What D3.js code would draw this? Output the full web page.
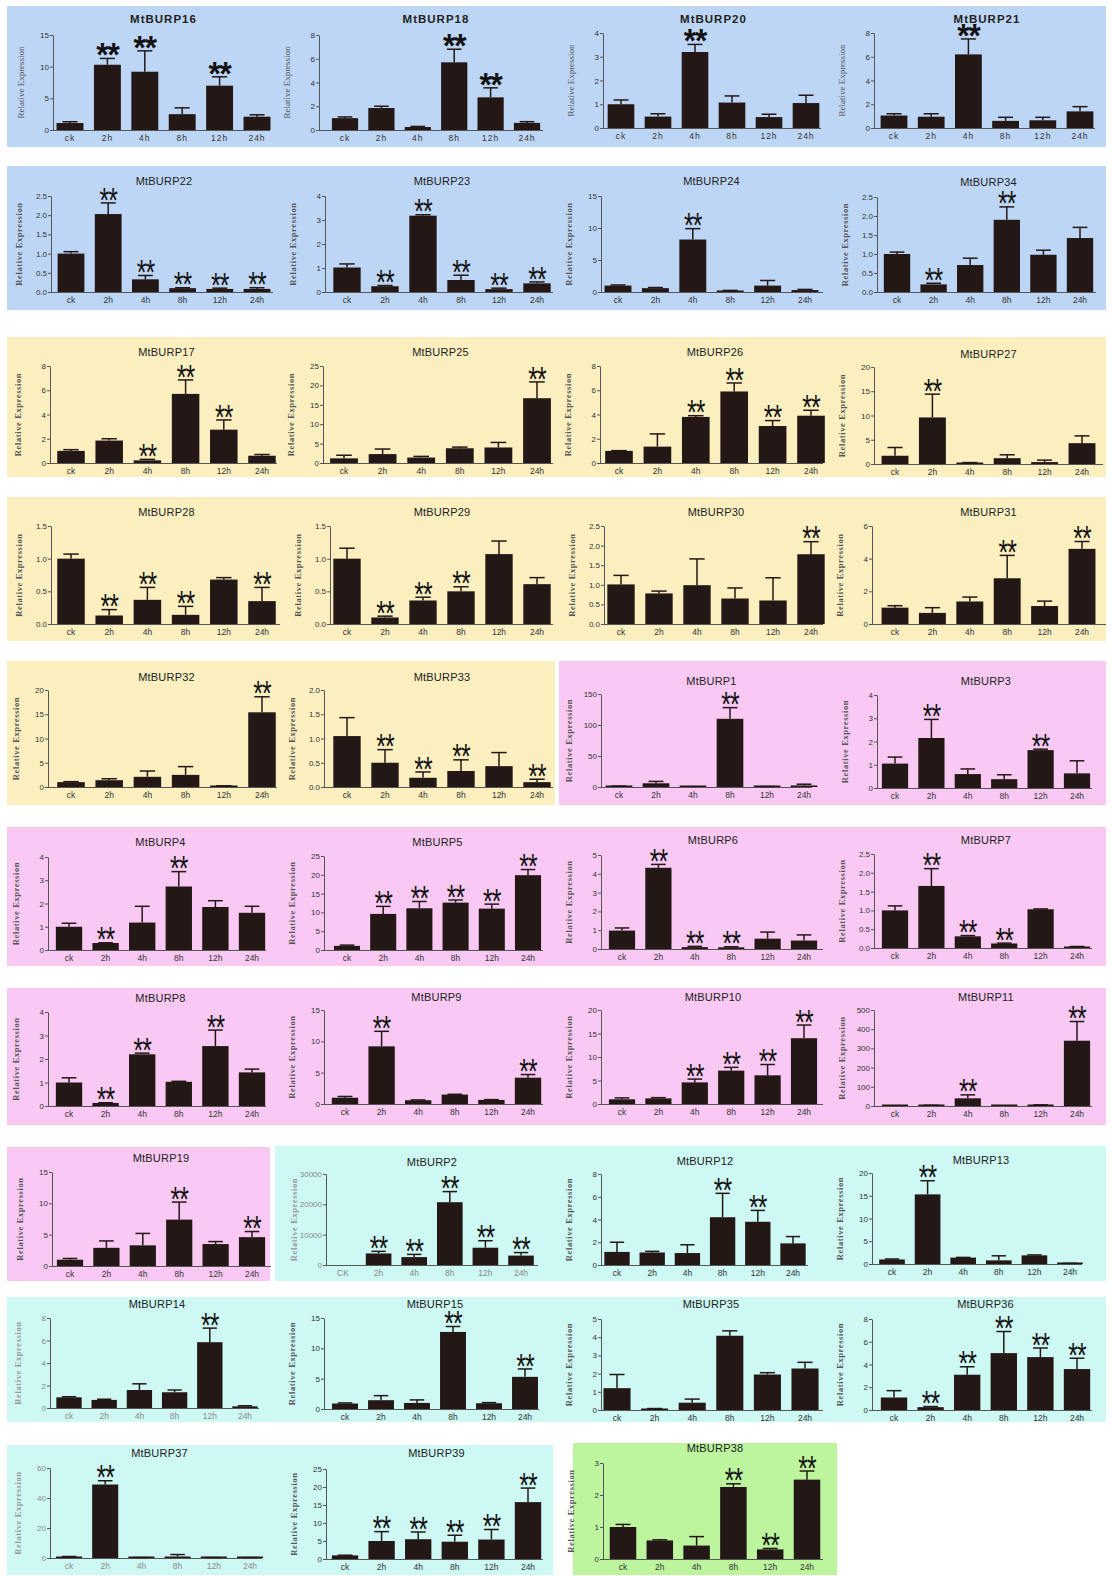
<!DOCTYPE html>
<html>
<head>
<meta charset="utf-8">
<script src="https://cdn.jsdelivr.net/npm/d3@7/dist/d3.min.js"></script>
<style>
  html, body { margin: 0; padding: 0; background: #fff; }
  svg { display: block; }
</style>
</head>
<body>
<svg id="chart" width="1112" height="1576"></svg>
<script>
// ---------------- DATA ----------------
const timePoints = ["ck", "2h", "4h", "8h", "12h", "24h"];
const timePointsUpper = ["CK", "2h", "4h", "8h", "12h", "24h"];

const genes = [
  "MtBURP16", "MtBURP18", "MtBURP20", "MtBURP21",
  "MtBURP22", "MtBURP23", "MtBURP24", "MtBURP34",
  "MtBURP17", "MtBURP25", "MtBURP26", "MtBURP27",
  "MtBURP28", "MtBURP29", "MtBURP30", "MtBURP31",
  "MtBURP32", "MtBURP33", "MtBURP1", "MtBURP3",
  "MtBURP4", "MtBURP5", "MtBURP6", "MtBURP7",
  "MtBURP8", "MtBURP9", "MtBURP10", "MtBURP11",
  "MtBURP19", "MtBURP2", "MtBURP12", "MtBURP13",
  "MtBURP14", "MtBURP15", "MtBURP35", "MtBURP36",
  "MtBURP37", "MtBURP39", "MtBURP38"
];

// mean relative expression per time point (ck, 2h, 4h, 8h, 12h, 24h)
const means = [
  [1.1, 10.3, 9.2, 2.5, 7.0, 2.1],
  [1.0, 1.85, 0.25, 5.7, 2.75, 0.6],
  [1.0, 0.48, 3.2, 1.07, 0.46, 1.05],
  [1.05, 0.95, 6.2, 0.6, 0.65, 1.4],
  [1.0, 2.03, 0.33, 0.1, 0.08, 0.08],
  [1.02, 0.24, 3.18, 0.5, 0.12, 0.36],
  [1.0, 0.6, 8.2, 0.2, 1.0, 0.3],
  [1.0, 0.2, 0.71, 1.9, 0.98, 1.42],
  [1.0, 1.85, 0.22, 5.7, 2.75, 0.6],
  [1.2, 2.3, 1.4, 3.8, 4.0, 16.7],
  [1.0, 1.35, 3.8, 5.9, 3.05, 3.9],
  [1.7, 9.6, 0.25, 1.2, 0.4, 4.3],
  [1.0, 0.13, 0.37, 0.14, 0.68, 0.35],
  [1.0, 0.1, 0.36, 0.5, 1.07, 0.61],
  [1.01, 0.78, 0.99, 0.65, 0.6, 1.78],
  [1.0, 0.68, 1.38, 2.8, 1.1, 4.6],
  [1.0, 1.4, 2.1, 2.5, 0.2, 15.4],
  [1.05, 0.5, 0.19, 0.33, 0.43, 0.1],
  [1, 6, 0.3, 110, 0.5, 2.5],
  [1.05, 2.15, 0.6, 0.38, 1.63, 0.63],
  [1.0, 0.3, 1.18, 2.73, 1.85, 1.6],
  [1.1, 9.6, 11.1, 12.6, 11.0, 19.9],
  [0.98, 4.32, 0.1, 0.09, 0.55, 0.45],
  [1.0, 1.65, 0.31, 0.12, 1.03, 0.03],
  [1.0, 0.13, 2.2, 1.03, 2.55, 1.43],
  [1.0, 9.2, 0.6, 1.5, 0.65, 4.2],
  [1.0, 1.2, 4.6, 7.1, 6.1, 14.0],
  [1, 3, 40, 1, 3, 340],
  [1.0, 2.9, 3.3, 7.4, 3.5, 4.6],
  [0, 3800, 2600, 20700, 5700, 3100],
  [1.15, 1.1, 1.05, 4.2, 3.8, 1.9],
  [1.0, 15.3, 1.4, 0.8, 1.9, 0.1],
  [0.95, 0.72, 1.6, 1.4, 5.85, 0.15],
  [0.9, 1.45, 1.0, 12.7, 0.95, 5.3],
  [1.2, 0.06, 0.4, 4.08, 1.95, 2.28],
  [1.1, 0.25, 3.1, 5.0, 4.65, 3.6],
  [0.8, 49, 0.2, 1.0, 0.2, 0.2],
  [1.0, 5.0, 5.5, 4.8, 5.4, 15.8],
  [1.0, 0.58, 0.42, 2.25, 0.3, 2.48]
];

// standard error (upper error bar length)
const errors = [
  [0.2, 1.0, 3.3, 1.0, 1.4, 0.3],
  [0.1, 0.15, 0.05, 1.1, 0.8, 0.1],
  [0.18, 0.12, 0.32, 0.28, 0.12, 0.33],
  [0.15, 0.25, 1.3, 0.3, 0.25, 0.4],
  [0.05, 0.29, 0.1, 0.01, 0.02, 0.03],
  [0.15, 0.03, 0.04, 0.2, 0.04, 0.06],
  [0.1, 0.1, 1.7, 0.05, 0.8, 0.1],
  [0.05, 0.03, 0.18, 0.34, 0.12, 0.28],
  [0.1, 0.15, 0.08, 1.15, 0.8, 0.1],
  [0.8, 1.3, 0.3, 0.3, 1.3, 4.2],
  [0.02, 1.05, 0.1, 0.7, 0.45, 0.45],
  [1.7, 4.8, 0.05, 0.7, 0.4, 1.5],
  [0.07, 0.09, 0.19, 0.13, 0.03, 0.21],
  [0.16, 0.02, 0.05, 0.07, 0.2, 0.1],
  [0.23, 0.06, 0.67, 0.27, 0.58, 0.32],
  [0.12, 0.32, 0.27, 1.4, 0.3, 0.45],
  [0.1, 0.3, 1.2, 1.7, 0.05, 3.2],
  [0.38, 0.27, 0.12, 0.23, 0.28, 0.06],
  [0.5, 3, 0, 18, 0.2, 2],
  [0.28, 0.8, 0.22, 0.19, 0.04, 0.54],
  [0.15, 0.01, 0.7, 0.64, 0.27, 0.28],
  [0.2, 2.0, 1.8, 0.7, 1.2, 1.5],
  [0.14, 0.18, 0.04, 0.03, 0.35, 0.3],
  [0.12, 0.46, 0.02, 0.01, 0.01, 0.01],
  [0.2, 0.01, 0.05, 0.02, 0.68, 0.14],
  [0.2, 2.4, 0.05, 0.05, 0.05, 0.5],
  [0.3, 0.15, 0.7, 0.7, 2.3, 2.8],
  [0, 1, 18, 0, 3, 100],
  [0.2, 1.1, 1.9, 2.8, 0.4, 0.9],
  [0, 700, 900, 3500, 2300, 1000],
  [0.85, 0.1, 0.73, 2.1, 1.0, 0.6],
  [0.1, 3.0, 0.05, 1.0, 0.1, 0.05],
  [0.05, 0.06, 0.55, 0.2, 1.25, 0.05],
  [0.1, 0.75, 0.5, 0.9, 0.1, 1.3],
  [0.75, 0.02, 0.2, 0.27, 0.1, 0.34],
  [0.6, 0.05, 0.7, 1.9, 0.8, 0.95],
  [0.2, 2.5, 0.1, 1.3, 0.1, 0.1],
  [0.05, 2.6, 2.0, 1.8, 2.8, 3.9],
  [0.08, 0.02, 0.28, 0.1, 0.03, 0.27]
];

// significance (** = 1)
const significant = [
  [0,1,1,0,1,0], [0,0,0,1,1,0], [0,0,1,0,0,0], [0,0,1,0,0,0],
  [0,1,1,1,1,1], [0,1,1,1,1,1], [0,0,1,0,0,0], [0,1,0,1,0,0],
  [0,0,1,1,1,0], [0,0,0,0,0,1], [0,0,1,1,1,1], [0,1,0,0,0,0],
  [0,1,1,1,0,1], [0,1,1,1,0,0], [0,0,0,0,0,1], [0,0,0,1,0,1],
  [0,0,0,0,0,1], [0,1,1,1,0,1], [0,0,0,1,0,0], [0,1,0,0,1,0],
  [0,1,0,1,0,0], [0,1,1,1,1,1], [0,1,1,1,0,0], [0,1,1,1,0,0],
  [0,1,1,0,1,0], [0,1,0,0,0,1], [0,0,1,1,1,1], [0,0,1,0,0,1],
  [0,0,0,1,0,1], [0,1,1,1,1,1], [0,0,0,1,1,0], [0,1,0,0,0,0],
  [0,0,0,0,1,0], [0,0,0,1,0,1], [0,0,0,0,0,0], [0,1,1,1,1,1],
  [0,1,0,0,0,0], [0,1,1,1,1,1], [0,0,0,1,1,1]
];

// y-axis maximum and tick step for each gene
const yMax = [15, 8, 4, 8, 2.5, 4, 15, 2.5, 8, 25, 8, 20, 1.5, 1.5, 2.5, 6,
              20, 2.0, 150, 4, 4, 25, 5, 2.5, 4, 15, 20, 500, 15, 30000, 8, 20,
              8, 15, 5, 8, 60, 25, 3];
const yStep = [5, 2, 1, 2, 0.5, 1, 5, 0.5, 2, 5, 2, 5, 0.5, 0.5, 0.5, 2,
               5, 0.5, 50, 1, 1, 5, 1, 0.5, 1, 5, 5, 100, 5, 10000, 2, 5,
               2, 5, 1, 2, 20, 5, 1];

// ---------------- LAYOUT (positions / styles only) ----------------
const COLORS = { blue: "#bdd6f6", yellow: "#fbefc0", pink: "#f9c9f4", cyan: "#cdf8f4", green: "#bdf59e" };
const backgrounds = [
  ["blue",   7,    6, 1106,  147],
  ["blue",   7,  166, 1106,  310],
  ["yellow", 7,  337, 1106,  477],
  ["yellow", 7,  497, 1106,  641],
  ["yellow", 7,  661,  555,  805],
  ["pink", 559,  661, 1106,  805],
  ["pink",   7,  827, 1106,  966],
  ["pink",   7,  988, 1106, 1125],
  ["pink",   7, 1147,  270, 1281],
  ["cyan", 275, 1146, 1106, 1281],
  ["cyan",   7, 1297, 1106, 1422],
  ["cyan",   7, 1445,  553, 1575],
  ["green", 573, 1443, 837, 1575]
];

// per panel: [axisX, firstCenter, lastCenter, endX, titleY, topY, baseY]
const panelBox = [
  [53, 70, 257, 270, 19, 35, 130], [319, 345, 527, 543, 19, 35, 130], [603, 621, 806, 821, 19, 33, 128], [874, 894, 1080, 1095, 19, 33, 128],
  [51, 71, 257, 273, 181, 196, 292], [325, 347, 537, 553, 181, 196, 292], [601, 618, 805, 823, 181, 196, 292], [877, 897, 1080, 1096, 182, 197, 292],
  [50, 71, 262, 277, 352, 366, 463], [323, 344, 537, 553, 352, 366, 463], [600, 619, 811, 823, 352, 366, 463], [874, 895, 1082, 1103, 354, 367, 464],
  [51, 71, 262, 280, 512, 526, 624], [330, 347, 537, 553, 512, 526, 624], [604, 621, 811, 823, 512, 526, 624], [872, 895, 1082, 1106, 512, 526, 624],
  [48, 71, 262, 277, 677, 690, 787], [324, 347, 537, 553, 677, 690, 787], [601, 619, 804, 812, 681, 694, 787], [877, 895, 1077, 1092, 681, 695, 788],
  [48, 69, 252, 266, 842, 857, 950], [324, 347, 528, 543, 842, 856, 950], [601, 622, 804, 823, 840, 855, 949], [874, 895, 1077, 1092, 840, 854, 948],
  [48, 69, 252, 266, 998, 1012, 1106], [324, 345, 528, 543, 997, 1010, 1104], [601, 622, 804, 823, 997, 1010, 1104], [874, 895, 1077, 1092, 997, 1010, 1106],
  [52, 70, 252, 271, 1158, 1172, 1266], [326, 343, 521, 538, 1162, 1174, 1265], [601, 617, 793, 808, 1161, 1174, 1265], [872, 892, 1070, 1082, 1160, 1173, 1264],
  [50, 69, 245, 259, 1304, 1318, 1408], [324, 345, 525, 539, 1304, 1318, 1409], [601, 617, 805, 823, 1304, 1319, 1410], [872, 894, 1077, 1092, 1304, 1319, 1410],
  [50, 69, 250, 262, 1453, 1468, 1558], [326, 345, 528, 543, 1453, 1469, 1559], [603, 623, 807, 823, 1448, 1463, 1559]
];
const fadedPanels = new Set(["MtBURP2", "MtBURP14", "MtBURP37"]);
const upperLabelPanels = new Set(["MtBURP2"]);

const BAR = "#231815";
const svg = d3.select("#chart");
svg.append("rect").attr("width", 1112).attr("height", 1576).attr("fill", "#fff");

svg.selectAll("rect.bg").data(backgrounds).join("rect")
  .attr("class", "bg")
  .attr("x", d => d[1]).attr("y", d => d[2])
  .attr("width", d => d[3] - d[1]).attr("height", d => d[4] - d[2])
  .attr("fill", d => COLORS[d[0]]);

genes.forEach((gene, i) => {
  const [axisX, c0, c5, endX, titleY, topY, baseY] = panelBox[i];
  const rowIdx = Math.floor(i / 4);
  const labels = upperLabelPanels.has(gene) ? timePointsUpper : timePoints;
  const faded = fadedPanels.has(gene);
  const txtColor = faded ? "#8a8a8a" : "#333";
  const s = (c5 - c0) / 5;
  const g = svg.append("g");

  const x = d3.scaleBand().domain(labels)
    .range([c0 - s / 2, c5 + s / 2]).paddingInner(0.28).paddingOuter(0.14);
  const y = d3.scaleLinear().domain([0, yMax[i]]).range([baseY, topY]);

  // title
  g.append("text")
    .attr("x", (c0 + c5) / 2).attr("y", titleY + 4)
    .attr("text-anchor", "middle")
    .attr("font-family", "Liberation Sans, Arial, sans-serif")
    .attr("font-size", rowIdx === 0 ? 11.5 : 11)
    .attr("font-weight", rowIdx === 0 ? "bold" : "normal")
    .attr("letter-spacing", rowIdx === 0 ? 1 : 0.2)
    .attr("fill", "#222")
    .text(gene);

  // y label
  g.append("text")
    .attr("transform", `translate(${axisX - 29},${(topY + baseY) / 2}) rotate(-90)`)
    .attr("text-anchor", "middle")
    .attr("font-family", "Liberation Serif, Times New Roman, serif")
    .attr("font-weight", rowIdx >= 1 ? "bold" : "normal")
    .attr("font-size", rowIdx === 0 ? 9 : 8.5)
    .attr("letter-spacing", rowIdx >= 1 ? 0.6 : 0)
    .attr("fill", faded ? "#999" : "#555")
    .text("Relative Expression");

  // y axis
  const ticks = d3.range(0, yMax[i] + yStep[i] / 2, yStep[i]);
  const fmt = yStep[i] < 1 ? d3.format(".1f") : d3.format("d");
  const yAxis = g.append("g")
    .attr("transform", `translate(${axisX},0)`)
    .call(d3.axisLeft(y).tickValues(ticks).tickFormat(fmt).tickSize(3).tickSizeOuter(0));
  yAxis.select(".domain").attr("stroke", "#555").attr("stroke-width", 1);
  yAxis.selectAll(".tick line").attr("stroke", "#555");
  yAxis.selectAll(".tick text")
    .attr("font-family", "Liberation Sans, Arial, sans-serif")
    .attr("font-size", 8).attr("fill", txtColor).attr("x", -4);

  // x axis line
  g.append("line")
    .attr("x1", axisX).attr("x2", endX).attr("y1", baseY + 0.5).attr("y2", baseY + 0.5)
    .attr("stroke", "#555").attr("stroke-width", 1);

  const xAxis = g.append("g")
    .attr("transform", `translate(0,${baseY})`)
    .call(d3.axisBottom(x).tickSize(0).tickPadding(5));
  xAxis.select(".domain").remove();
  xAxis.selectAll(".tick text")
    .attr("font-family", "Liberation Sans, Arial, sans-serif")
    .attr("font-size", 8.5)
    .attr("letter-spacing", rowIdx === 0 ? 1 : 0)
    .attr("fill", txtColor);

  const rows = labels.map((t, k) => ({ t, v: means[i][k], e: errors[i][k], sig: significant[i][k] }));
  const bw = x.bandwidth();

  // bars
  g.selectAll("rect.bar").data(rows.filter(d => d.v > 0)).join("rect")
    .attr("class", "bar")
    .attr("x", d => x(d.t))
    .attr("y", d => Math.min(y(d.v), baseY - 1.5))
    .attr("width", bw)
    .attr("height", d => Math.max(baseY - y(d.v), 1.5))
    .attr("fill", BAR);

  // error bars
  const eb = rows.filter(d => d.e > 0);
  g.selectAll("line.err").data(eb).join("line")
    .attr("class", "err")
    .attr("x1", d => x(d.t) + bw / 2).attr("x2", d => x(d.t) + bw / 2)
    .attr("y1", d => y(d.v)).attr("y2", d => y(d.v + d.e))
    .attr("stroke", BAR).attr("stroke-width", 1.5);
  g.selectAll("line.cap").data(eb).join("line")
    .attr("class", "cap")
    .attr("x1", d => x(d.t) + bw * 0.22).attr("x2", d => x(d.t) + bw * 0.78)
    .attr("y1", d => y(d.v + d.e)).attr("y2", d => y(d.v + d.e))
    .attr("stroke", BAR).attr("stroke-width", 1.5);

  // significance stars: glyph bottom placed a few px above the error cap
  const F = rowIdx === 0 ? 30 : 27;
  const sx = rowIdx === 0 ? 1.05 : 0.92;
  const sy = rowIdx === 0 ? 1.1 : 1.3;
  g.selectAll("text.sig").data(rows.filter(d => d.sig)).join("text")
    .attr("class", "sig")
    .attr("transform", d => `translate(${x(d.t) + bw / 2},${Math.min(y(d.v + d.e), baseY) - 3}) scale(${sx},${sy})`)
    .attr("x", 0)
    .attr("y", 0.33 * F)
    .attr("text-anchor", "middle")
    .attr("font-family", "Liberation Sans, Arial, sans-serif")
    .attr("font-weight", rowIdx === 0 ? "bold" : "normal")
    .attr("font-size", F)
    .attr("letter-spacing", -1)
    .attr("fill", "#111")
    .text("**");
});
</script>
</body>
</html>
